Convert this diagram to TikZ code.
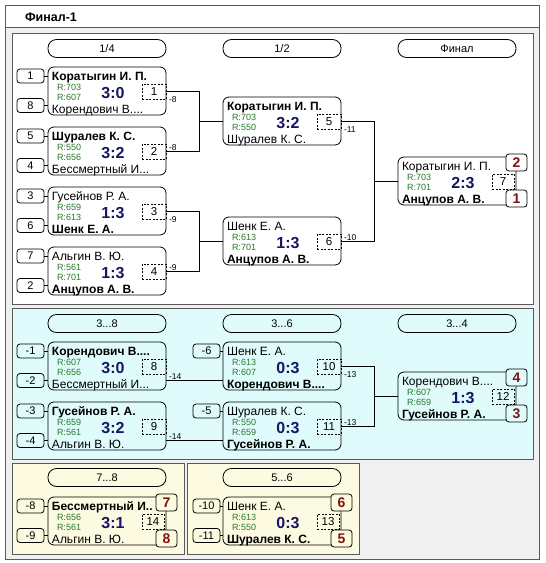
\documentclass[tikz,border=0pt]{standalone}
\usepackage{fontspec}
\setmainfont{Liberation Sans}
\usetikzlibrary{calc}
\definecolor{panelcyan}{RGB}{224,251,251}
\definecolor{panelyellow}{RGB}{252,250,224}
\definecolor{bggray}{RGB}{240,240,240}
\definecolor{framegray}{RGB}{90,90,90}
\definecolor{scoreblue}{RGB}{22,22,100}
\definecolor{rategreen}{RGB}{40,120,40}
\definecolor{rankred}{RGB}{128,18,18}
\newcommand\fs[1]{\fontsize{#1}{#1}\selectfont}
\tikzset{
  every node/.style={inner sep=0pt, outer sep=0pt},
  boxline/.style={draw=black, line width=0.8pt},
  matchshape/.style={boxline, rounded corners=6pt, minimum width=118pt, minimum height=48pt},
  seedbox/.style={boxline, rounded corners=3pt, minimum width=27pt, minimum height=14pt, font=\fs{11}},
  pill/.style={boxline, rounded corners=8.5pt, minimum width=118pt, minimum height=18pt, font=\fs{11}},
  numbox/.style={draw=black, dash pattern=on 2pt off 1.5pt, line width=0.7pt, minimum height=15pt, font=\fs{11.5}},
  rankbox/.style={boxline, rounded corners=3pt, minimum width=21pt, minimum height=17pt, font=\bfseries\fs{14}, text=rankred},
  pname/.style={anchor=west, font=\fs{12}, text height=8.6pt, text depth=0pt},
  rate/.style={anchor=west, font=\fs{9}, text=rategreen, text height=6.4pt, text depth=0pt},
  score/.style={font=\bfseries\fs{16}, text=scoreblue, text height=11.4pt, text depth=0pt},
  lbl/.style={anchor=west, font=\fs{8.5}, text height=6.1pt, text depth=0pt},
  conn/.style={line width=0.8pt},
  panelline/.style={draw=framegray, line width=0.8pt},
}
\def\dw{24}
\def\din{0}
% #1 id, #2 left, #3 top, #4 top name, #5 r1, #6 score, #7 r2, #8 bottom name, #9 number
\newcommand\game[9]{%
  \node[matchshape] (m#1) at ({#2+59},{#3+24}) {};
  \node[pname] (m#1a) at ({#2+4},{#3+9}) {#4};
  \node[rate] (m#1r) at ({#2+9},{#3+20.5}) {R:#5};
  \node[rate] (m#1s) at ({#2+9},{#3+30.5}) {R:#7};
  \node[score] (m#1c) at ({#2+65},{#3+25.5}) {#6};
  \node[pname] (m#1b) at ({#2+4},{#3+42}) {#8};
  \node[numbox, minimum width=\dw pt, anchor=north east] (d#1) at ({#2+118-\din},{#3+17}) {#9};
  \coordinate (m#1in) at ({#2},{#3+38.5});
  \coordinate (m#1out) at ({#2+118},{#3+38.5});
}
\newcommand\seedA[4]{\node[seedbox] (s#1a) at (#2,{#3+9}) {#4};
  \draw[conn] (s#1a.east) -- (s#1a.east -| m#1.west);}
\newcommand\seedB[4]{\node[seedbox] (s#1b) at (#2,{#3+38.5}) {#4};
  \draw[conn] (s#1b.east) -- (m#1in);}
% #1 id, #2 right, #3 top, #4 top rank, #5 bottom rank, #6 fill
\newcommand\ranks[6]{%
  \node[rankbox, fill=#6] (k#1a) at (#2,{#3+5.5}) {#4};
  \node[rankbox, fill=#6] (k#1b) at (#2,{#3+41.5}) {#5};
}
\begin{document}
\begin{tikzpicture}[x=1pt,y=-1pt]
\useasboundingbox (0,0) rectangle (546,563);
% frame
\fill[bggray] (5,5) rectangle (539,559);
\fill[white] (5,5) rectangle (539,27);
\draw[panelline] (5,5) rectangle (539,559);
\draw[panelline] (5,27) -- (539,27);
\node[anchor=west, font=\bfseries\fs{12.5}, text height=9pt, text depth=0pt] (title) at (25,16.5) {Финал-1};
% panels
\draw[panelline, fill=white] (12,33) rectangle (533,304);
\draw[panelline, fill=panelcyan] (12,308) rectangle (533,459);
\draw[panelline, fill=panelyellow] (12,463) rectangle (184,554);
\draw[panelline, fill=panelyellow] (187,463) rectangle (359,554);
% headers
\node[pill] (h1) at (107,48.5) {1/4};
\node[pill] (h2) at (282,48.5) {1/2};
\node[pill] (h3) at (457,48.5) {Финал};
\node[pill] (h4) at (107,323.5) {3...8};
\node[pill] (h5) at (282,323.5) {3...6};
\node[pill] (h6) at (457,323.5) {3...4};
\node[pill] (h7) at (107,477.5) {7...8};
\node[pill] (h8) at (282,477.5) {5...6};
% quarterfinals
\game{1}{48}{67}{\bfseries Коратыгин И. П.}{703}{3:0}{607}{Корендович В....}{1}
\seedA{1}{30.5}{67}{1}\seedB{1}{30.5}{67}{8}
\game{2}{48}{127}{\bfseries Шуралев К. С.}{550}{3:2}{656}{Бессмертный И...}{2}
\seedA{2}{30.5}{127}{5}\seedB{2}{30.5}{127}{4}
\game{3}{48}{187}{Гусейнов Р. А.}{659}{1:3}{613}{\bfseries Шенк Е. А.}{3}
\seedA{3}{30.5}{187}{3}\seedB{3}{30.5}{187}{6}
\game{4}{48}{247}{Альгин В. Ю.}{561}{1:3}{701}{\bfseries Анцупов А. В.}{4}
\seedA{4}{30.5}{247}{7}\seedB{4}{30.5}{247}{2}
% semifinals
\game{5}{223}{97}{\bfseries Коратыгин И. П.}{703}{3:2}{550}{Шуралев К. С.}{5}
\game{6}{223}{217}{Шенк Е. А.}{613}{1:3}{701}{\bfseries Анцупов А. В.}{6}
% 3...8
\game{8}{48}{342}{\bfseries Корендович В....}{607}{3:0}{656}{Бессмертный И...}{8}
\seedA{8}{30.5}{342}{-1}\seedB{8}{30.5}{342}{-2}
\game{9}{48}{402}{\bfseries Гусейнов Р. А.}{659}{3:2}{561}{Альгин В. Ю.}{9}
\seedA{9}{30.5}{402}{-3}\seedB{9}{30.5}{402}{-4}
\game{10}{223}{342}{Шенк Е. А.}{613}{0:3}{607}{\bfseries Корендович В....}{10}
\seedA{10}{206.5}{342}{-6}
\game{11}{223}{402}{Шуралев К. С.}{550}{0:3}{659}{\bfseries Гусейнов Р. А.}{11}
\seedA{11}{206.5}{402}{-5}
% ranked matches
\def\dw{22}\def\din{2}
\game{7}{398}{157}{Коратыгин И. П.}{703}{2:3}{701}{\bfseries Анцупов А. В.}{7}
\game{12}{398}{372}{Корендович В....}{607}{1:3}{659}{\bfseries Гусейнов Р. А.}{12}
\game{14}{48}{497}{\bfseries Бессмертный И..}{656}{3:1}{561}{Альгин В. Ю.}{14}
\seedA{14}{30.5}{497}{-8}\seedB{14}{30.5}{497}{-9}
\game{13}{223}{497}{Шенк Е. А.}{613}{0:3}{550}{\bfseries Шуралев К. С.}{13}
\seedA{13}{206.5}{497}{-10}\seedB{13}{206.5}{497}{-11}
% connectors
\coordinate (bxA) at (199,0);
\coordinate (bxB) at (374,0);
\draw[conn] (d1.east) -| (bxA |- m5.west) -- (m5.west);
\draw[conn] (d2.east) -| (bxA |- m5.west);
\draw[conn] (d3.east) -| (bxA |- m6.west) -- (m6.west);
\draw[conn] (d4.east) -| (bxA |- m6.west);
\draw[conn] (d5.east) -| (bxB |- m7.west) -- (m7.west);
\draw[conn] (d6.east) -| (bxB |- m7.west);
\draw[conn] (m8out) -- (m10in);
\draw[conn] (m9out) -- (m11in);
\draw[conn] (d10.east) -| (bxB |- m12.west) -- (m12.west);
\draw[conn] (d11.east) -| (bxB |- m12.west);
% connector labels
\node[lbl] (l1) at ($(d1.east)+(3,8)$) {-8};
\node[lbl] (l2) at ($(d2.east)+(3,-4.5)$) {-8};
\node[lbl] (l3) at ($(d3.east)+(3,8)$) {-9};
\node[lbl] (l4) at ($(d4.east)+(3,-4.5)$) {-9};
\node[lbl] (l5) at ($(d5.east)+(3,8)$) {-11};
\node[lbl] (l6) at ($(d6.east)+(3,-4.5)$) {-10};
\node[lbl] (l8) at ($(m8out)+(3,-4.5)$) {-14};
\node[lbl] (l9) at ($(m9out)+(3,-4.5)$) {-14};
\node[lbl] (l10) at ($(d10.east)+(3,8)$) {-13};
\node[lbl] (l11) at ($(d11.east)+(3,-4.5)$) {-13};
% ranks
\ranks{7}{516.5}{157}{2}{1}{white}
\ranks{12}{516.5}{372}{4}{3}{panelcyan}
\ranks{14}{166.5}{497}{7}{8}{panelyellow}
\ranks{13}{341.5}{497}{6}{5}{panelyellow}
\end{tikzpicture}
\end{document}
